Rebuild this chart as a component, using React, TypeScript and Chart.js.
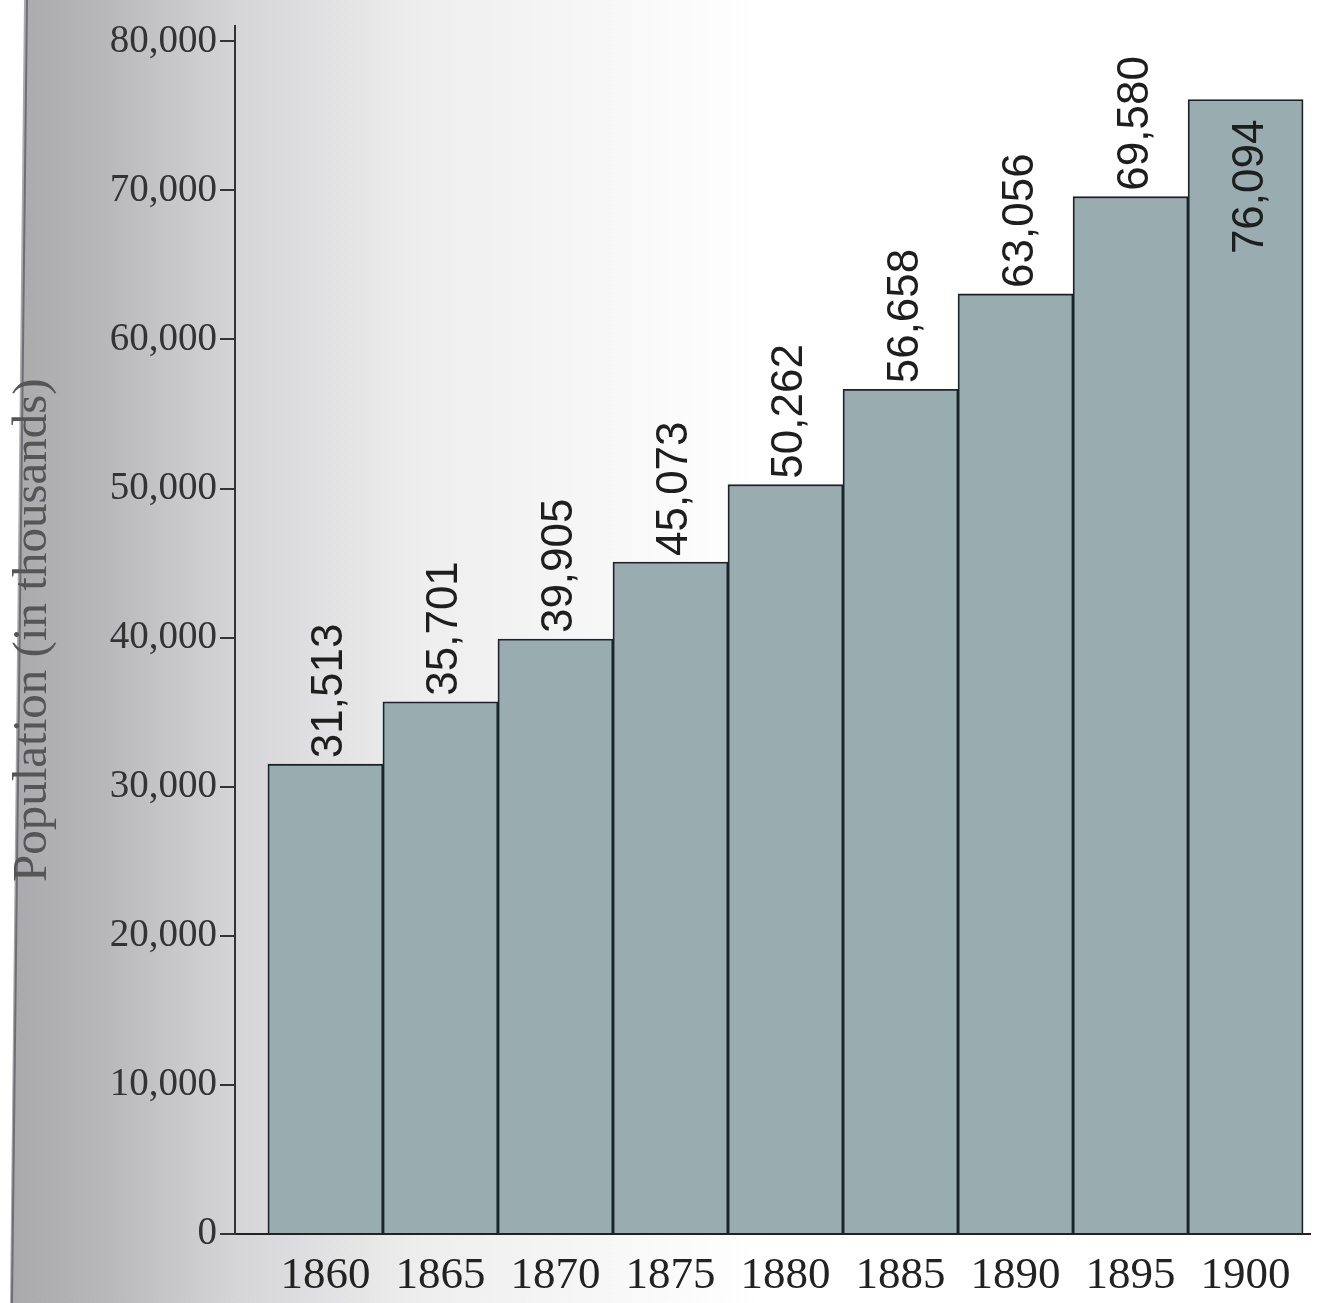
import React, { useEffect, useRef } from 'react';
import { Chart, registerables } from 'chart.js';

Chart.register(...registerables);

const years = [1860, 1865, 1870, 1875, 1880, 1885, 1890, 1895, 1900];
const population = [31513, 35701, 39905, 45073, 50262, 56658, 63056, 69580, 76094];
const valueLabels = ['31,513', '35,701', '39,905', '45,073', '50,262', '56,658', '63,056', '69,580', '76,094'];
const yTickValues = [0, 10000, 20000, 30000, 40000, 50000, 60000, 70000, 80000];
const yTitle = 'Population (in thousands)';

const backgroundPlugin = {
  id: 'pageBackground',
  beforeDraw(chart: any) {
    const { ctx, width, height } = chart;
    ctx.save();
    ctx.fillStyle = '#ffffff';
    ctx.fillRect(0, 0, width, height);
    const g = ctx.createLinearGradient(10, 0, 760, 0);
    g.addColorStop(0, '#a9a8ab');
    g.addColorStop(0.12, '#b7b6b9');
    g.addColorStop(0.3, '#d5d5d7');
    g.addColorStop(0.55, '#eeeeef');
    g.addColorStop(1, '#ffffff');
    ctx.fillStyle = g;
    ctx.fillRect(10, 0, width - 10, height);
    // page edge
    ctx.fillStyle = '#ffffff';
    ctx.beginPath();
    ctx.moveTo(0, 0);
    ctx.lineTo(24, 0);
    ctx.lineTo(10, height);
    ctx.lineTo(0, height);
    ctx.closePath();
    ctx.fill();
    ctx.strokeStyle = '#6f6e72';
    ctx.lineWidth = 2;
    ctx.beginPath();
    ctx.moveTo(27, 0);
    ctx.lineTo(12, height);
    ctx.stroke();
    ctx.restore();
  },
};

const valueLabelPlugin = {
  id: 'valueLabels',
  afterDatasetsDraw(chart: any) {
    const { ctx } = chart;
    const meta = chart.getDatasetMeta(0);
    meta.data.forEach((bar: any, i: number) => {
      const text = valueLabels[i];
      ctx.save();
      ctx.font = '44px "Liberation Sans", "DejaVu Sans", sans-serif';
      ctx.fillStyle = '#1e1e1e';
      const w = ctx.measureText(text).width;
      const fitsAbove = bar.y - 6 - w >= 0;
      ctx.translate(bar.x + 17, fitsAbove ? bar.y - 6 : bar.y + 20);
      ctx.rotate(-Math.PI / 2);
      ctx.textAlign = fitsAbove ? 'left' : 'right';
      ctx.textBaseline = 'alphabetic';
      ctx.fillText(text, 0, 0);
      ctx.restore();
    });
  },
};

export default function App() {
  const canvasRef = useRef<HTMLCanvasElement | null>(null);

  useEffect(() => {
    document.body.style.margin = '0';
    const canvas = canvasRef.current;
    if (!canvas) return;
    const chart = new Chart(canvas, {
      type: 'bar',
      data: {
        datasets: [
          {
            data: years.map((yr, i) => ({ x: yr, y: population[i] })),
            backgroundColor: '#99adb0',
            borderColor: '#1a2428',
            borderWidth: 1.8,
            barPercentage: 1,
            categoryPercentage: 1,
          },
        ],
      },
      options: {
        responsive: true,
        maintainAspectRatio: false,
        animation: false,
        layout: { padding: { left: 0, right: 15, top: 20, bottom: -16 } },
        plugins: {
          legend: { display: false },
          tooltip: { enabled: false },
        },
        scales: {
          x: {
            type: 'linear',
            offset: false,
            bounds: 'data',
            min: 1856.07,
            max: 1902.8,
            afterBuildTicks: (scale: any) => {
              scale.ticks = years.map((v) => ({ value: v }));
            },
            grid: { display: false, drawTicks: false, offset: false },
            border: { display: true, color: '#222222', width: 2 },
            ticks: {
              autoSkip: false,
              maxRotation: 0,
              padding: 20,
              color: '#222222',
              font: { family: '"Liberation Serif", "DejaVu Serif", serif', size: 45, lineHeight: 1 },
              callback: (v: any) => String(v),
            },
          },
          y: {
            min: 0,
            max: 81000,
            afterBuildTicks: (scale: any) => {
              scale.ticks = yTickValues.map((v) => ({ value: v }));
            },
            afterFit: (scale: any) => {
              scale.width = 235;
            },
            grid: { drawOnChartArea: false, tickLength: 15, color: '#333333', lineWidth: 2 },
            border: { display: true, color: '#333333', width: 2 },
            ticks: {
              padding: 3,
              color: '#333333',
              font: { family: '"Liberation Serif", "DejaVu Serif", serif', size: 39 },
              callback: (v: any) => Number(v).toLocaleString('en-US'),
            },
            title: {
              display: true,
              text: yTitle,
              color: '#555555',
              font: { family: '"Liberation Serif", "DejaVu Serif", serif', size: 49 },
              padding: { top: 4, bottom: 0 },
            },
          },
        },
      },
      plugins: [backgroundPlugin, valueLabelPlugin],
    } as any);
    return () => chart.destroy();
  }, []);

  return (
    <div style={{ position: 'relative', width: '1325px', height: '1303px' }}>
      <canvas ref={canvasRef} />
    </div>
  );
}
